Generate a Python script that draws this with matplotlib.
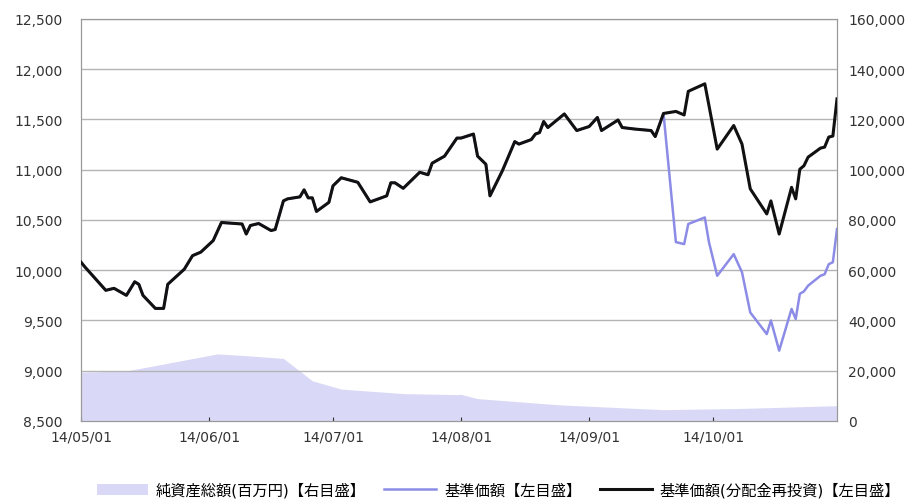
"""Fund NAV chart: net assets (area, right axis) and NAV lines (left axis)."""

import matplotlib
matplotlib.use("Agg")
import matplotlib.pyplot as plt
import matplotlib.dates as mdates
import pandas as pd
from matplotlib.ticker import FuncFormatter

plt.rcParams["font.family"] = ["DejaVu Sans", "Noto Sans CJK JP"]

# 基準価額(分配金再投資)
reinvest_dates = [
    "2014-05-01", "2014-05-02", "2014-05-07", "2014-05-09", "2014-05-12",
    "2014-05-14", "2014-05-15", "2014-05-16", "2014-05-19", "2014-05-21",
    "2014-05-22", "2014-05-26", "2014-05-28", "2014-05-30", "2014-06-02",
    "2014-06-04", "2014-06-09", "2014-06-10", "2014-06-11", "2014-06-13",
    "2014-06-16", "2014-06-17", "2014-06-19", "2014-06-20", "2014-06-23",
    "2014-06-24", "2014-06-25", "2014-06-26", "2014-06-27", "2014-06-30",
    "2014-07-01", "2014-07-03", "2014-07-07", "2014-07-10", "2014-07-14",
    "2014-07-15", "2014-07-16", "2014-07-18", "2014-07-22", "2014-07-24",
    "2014-07-25", "2014-07-28", "2014-07-31", "2014-08-01", "2014-08-04",
    "2014-08-05", "2014-08-07", "2014-08-08", "2014-08-11", "2014-08-14",
    "2014-08-15", "2014-08-18", "2014-08-19", "2014-08-20", "2014-08-21",
    "2014-08-22", "2014-08-26", "2014-08-29", "2014-09-01", "2014-09-03",
    "2014-09-04", "2014-09-08", "2014-09-09", "2014-09-12", "2014-09-16",
    "2014-09-17", "2014-09-19", "2014-09-22", "2014-09-24", "2014-09-25",
    "2014-09-29", "2014-09-30", "2014-10-02", "2014-10-06", "2014-10-08",
    "2014-10-10", "2014-10-14", "2014-10-15", "2014-10-17", "2014-10-20",
    "2014-10-21", "2014-10-22", "2014-10-23", "2014-10-24", "2014-10-27",
    "2014-10-28", "2014-10-29", "2014-10-30", "2014-10-31",
]
reinvest_values = [
    10080, 10030, 9800, 9820, 9750,
    9885, 9860, 9750, 9620, 9620,
    9860, 10010, 10145, 10180, 10295,
    10475, 10460, 10360, 10445, 10465,
    10395, 10405, 10690, 10710, 10730,
    10800, 10720, 10720, 10585, 10675,
    10840, 10920, 10875, 10680, 10740,
    10870, 10870, 10815, 10975, 10950,
    11065, 11135, 11315, 11315, 11355,
    11135, 11055, 10740, 10990, 11280,
    11255, 11300, 11355, 11370, 11480,
    11420, 11555, 11390, 11430, 11520,
    11390, 11495, 11420, 11405, 11390,
    11330, 11560, 11580, 11545, 11780,
    11855, 11640, 11205, 11440, 11255,
    10810, 10560, 10690, 10360, 10825,
    10710, 11005, 11040, 11125, 11215,
    11225, 11325, 11335, 11705,
]

# 基準価額: same as reinvested series up to the distribution on 2014-09-19
split_date = "2014-09-19"
nav_after_values = [
    10280, 10260, 10460,
    10525, 10280, 9945, 10160, 9980,
    9580, 9365, 9500, 9200, 9615,
    9515, 9765, 9790, 9846, 9945,
    9960, 10060, 10080, 10410,
]

# 純資産総額(百万円)
assets_dates = [
    "2014-05-01", "2014-05-12", "2014-05-23", "2014-06-03", "2014-06-10",
    "2014-06-19", "2014-06-26", "2014-07-03", "2014-07-18", "2014-07-31",
    "2014-08-01", "2014-08-05", "2014-08-25", "2014-09-19", "2014-10-08",
    "2014-10-31",
]
assets_values = [
    19400, 19900, 23300, 26700, 26000,
    24900, 16000, 12700, 10900, 10500,
    10600, 8900, 6400, 4500, 5000,
    6100,
]

labels = ["純資産総額(百万円)【右目盛】", "基準価額【左目盛】", "基準価額(分配金再投資)【左目盛】"]

r_dates = pd.to_datetime(reinvest_dates)
split_idx = reinvest_dates.index(split_date) + 1
nav_values = reinvest_values[:split_idx] + nav_after_values
a_dates = pd.to_datetime(assets_dates)

fig = plt.figure(figsize=(9.09, 5.02), dpi=100)
ax = fig.add_axes([0.0891, 0.1594, 0.8317, 0.8008])
ax2 = ax.twinx()

# area on the right axis, drawn underneath the lines
area = ax2.fill_between(a_dates, 0, assets_values, color="#d9d9f7", lw=0)
ax2.set_ylim(0, 160000)
ax2.set_yticks(range(0, 160001, 20000))
ax2.yaxis.set_major_formatter(FuncFormatter(lambda v, p: f"{int(v):,}"))
ax2.tick_params(axis="y", length=0, labelsize=10, pad=8, colors="#333333")

ax.set_zorder(ax2.get_zorder() + 1)
ax.patch.set_visible(False)

for y in range(9000, 12501, 500):
    ax.axhline(y, color="#b4b4b4", lw=1, zorder=0)

l1, = ax.plot(r_dates, nav_values, color="#8c8ce6", lw=1.8, zorder=2)
l2, = ax.plot(r_dates, reinvest_values, color="#111111", lw=2.2, zorder=3)

ax.set_ylim(8500, 12500)
ax.set_yticks(range(8500, 12501, 500))
ax.yaxis.set_major_formatter(FuncFormatter(lambda v, p: f"{int(v):,}"))
ax.tick_params(axis="y", length=0, labelsize=10, pad=13, colors="#333333")

ax.set_xlim(pd.Timestamp("2014-05-01"), pd.Timestamp("2014-10-31"))
ax.xaxis.set_major_locator(mdates.MonthLocator())
ax.xaxis.set_major_formatter(mdates.DateFormatter("%y/%m/%d"))
ax.tick_params(axis="x", direction="in", length=3, labelsize=10, colors="#333333",
               pad=6)

for a in (ax, ax2):
    for s in a.spines.values():
        s.set_color("#999999")

fig.legend([area, l1, l2], labels, loc="center", bbox_to_anchor=(0.548, 0.022),
           ncol=3, frameon=False, fontsize=11, handlelength=3.4,
           columnspacing=1.2, handletextpad=0.5)

fig.savefig("out.png", dpi=100)
